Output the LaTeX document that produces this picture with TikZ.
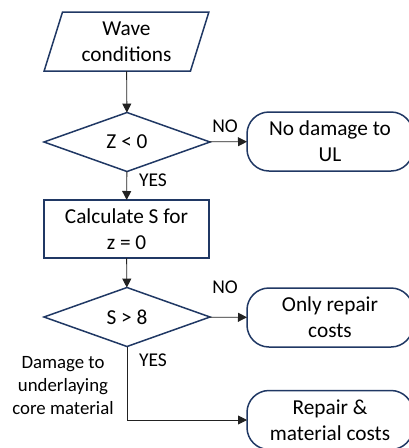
\documentclass[tikz,border=0pt]{standalone}
\usepackage{fontspec}
\setmainfont{Carlito}
\usetikzlibrary{shapes.geometric,arrows.meta}
\definecolor{boxblue}{HTML}{203864}
\definecolor{linegray}{HTML}{222222}
\begin{document}
\begin{tikzpicture}[x=1pt,y=-1pt,
  every node/.style={inner sep=0pt, outer sep=0pt, font=\fontsize{21.3}{26}\selectfont, align=center},
  iobox/.style={draw=boxblue, line width=1.5pt, trapezium, trapezium left angle=72,
    trapezium right angle=108, trapezium stretches=true, minimum width=165pt, minimum height=59pt},
  decision/.style={draw=boxblue, line width=1.5pt, diamond, aspect=2.8,
    minimum width=166pt, minimum height=59pt},
  process/.style={draw=boxblue, line width=1.5pt, rectangle, minimum width=165pt, minimum height=58pt},
  terminal/.style={draw=boxblue, line width=1.5pt, rectangle, rounded corners=22pt,
    minimum width=166pt, minimum height=59pt},
  flow/.style={draw=linegray, line width=0.9pt, -{Triangle[length=9pt,width=9pt]}},
  lbl/.style={font=\fontsize{19.5}{23}\selectfont},
  note/.style={font=\fontsize{18.8}{23}\selectfont}
]
\useasboundingbox (0,0) rectangle (409,448);

% main column
\node[iobox] (wave) at (126.5,41.5) {Wave\\conditions};
\node[decision] (z) at (127,142) {Z < 0};
\node[process] (calc) at (126.5,229) {Calculate S for\\z = 0};
\node[decision] (s) at (127,317) {S > 8};

% outcomes
\node[terminal] (nodmg) at (330,141.5) {No damage to\\UL};
\node[terminal] (repair) at (330,317.5) {Only repair\\costs};
\node[terminal] (material) at (330,420) {Repair \&\\material costs};

% branch labels
\node[lbl] (no1) at (225,126) {NO};
\node[lbl] (yes1) at (153,180) {YES};
\node[lbl] (no2) at (225,287) {NO};
\node[lbl] (yes2) at (153,360) {YES};
\node[note] (dmg) at (63,386) {Damage to\\underlaying\\core material};

% connectors
\draw[flow] (wave) -- (z);
\draw[flow] (z) -- (nodmg);
\draw[flow] (z) -- (calc);
\draw[flow] (calc) -- (s);
\draw[flow] (s) -- (repair);
\draw[flow] (s.south) |- (material.west);
\end{tikzpicture}
\end{document}
